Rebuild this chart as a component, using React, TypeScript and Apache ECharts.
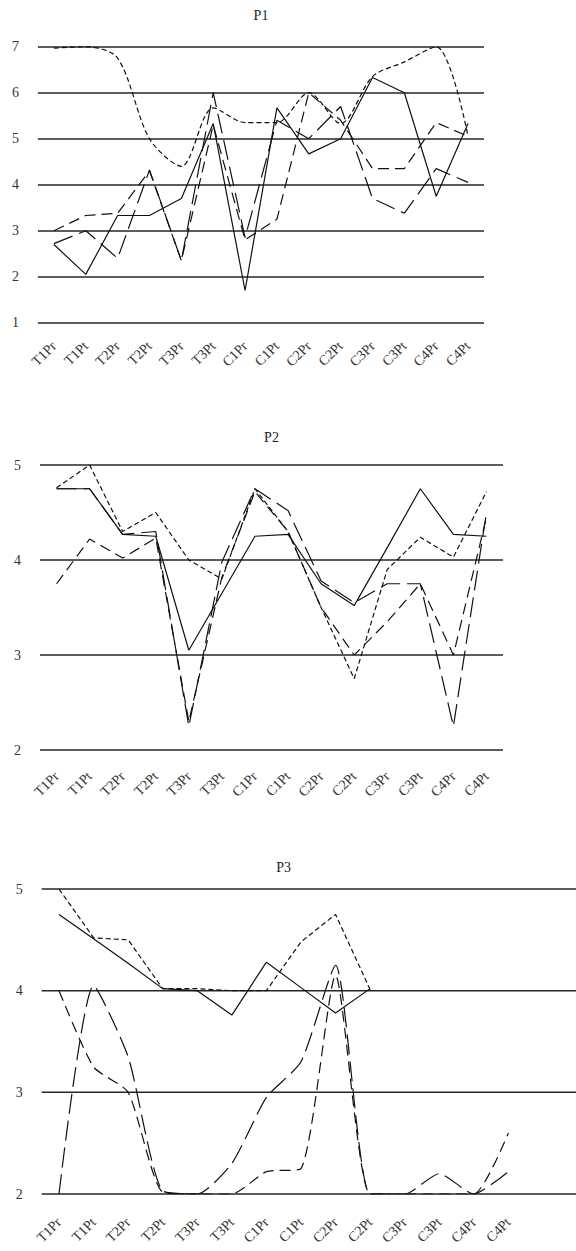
import React, { useEffect, useRef } from "react";
import * as echarts from "echarts";

const categories = ["T1Pr", "T1Pt", "T2Pr", "T2Pt", "T3Pr", "T3Pt", "C1Pr", "C1Pt", "C2Pr", "C2Pt", "C3Pr", "C3Pt", "C4Pr", "C4Pt"];

const p1Solid = [2.7, 2.05, 3.33, 3.33, 3.7, 5.33, 1.7, 5.67, 4.67, 5.0, 6.33, 6.0, 3.75, 5.33];
const p1Short = [6.97, 7.0, 6.75, 5.0, 4.4, 5.67, 5.35, 5.35, 6.0, 5.33, 6.35, 6.67, 7.0, 5.05];
const p1Medium = [3.0, 3.33, 3.38, 4.3, 2.35, 5.3, 2.8, 3.25, 6.0, 5.4, 4.35, 4.35, 5.35, 5.05];
const p1Long = [2.72, 3.0, 2.4, 4.32, 2.35, 6.0, 2.85, 5.4, 5.0, 5.7, 3.7, 3.38, 4.35, 4.05];

const p2Solid = [4.75, 4.75, 4.27, 4.25, 3.05, 3.65, 4.25, 4.27, 3.75, 3.52, 4.13, 4.75, 4.27, 4.25];
const p2Short = [4.76, 5.0, 4.3, 4.5, 4.0, 3.8, 4.75, 4.3, 3.5, 2.75, 3.9, 4.24, 4.03, 4.72];
const p2Medium = [3.75, 4.22, 4.02, 4.23, 2.3, 3.82, 4.72, 4.3, 3.5, 3.0, 3.35, 3.75, 3.0, 4.45];
const p2Long = [4.75, 4.75, 4.27, 4.3, 2.25, 3.98, 4.75, 4.52, 3.78, 3.55, 3.75, 3.75, 2.25, 4.5];

const p3Solid = [4.75, 4.51, 4.27, 4.02, 4.0, 3.76, 4.28, 4.03, 3.78, 4.02, null, null, null, null];
const p3Short = [5.0, 4.52, 4.5, 4.02, 4.02, 4.0, 4.0, 4.48, 4.75, 4.01, null, null, null, null];
const p3Medium = [4.0, 3.25, 3.0, 2.02, 2.0, 2.0, 2.22, 2.25, 4.15, 2.0, 2.0, 2.0, 2.0, 2.6];
const p3Long = [2.0, 4.05, 3.35, 2.03, 2.0, 2.3, 2.95, 3.3, 4.25, 2.0, 2.0, 2.2, 2.0, 2.22];

const panelTitles = ["P1", "P2", "P3"];
const yRanges = [
  [1, 7],
  [2, 5],
  [2, 5],
];

const FONT = "'Liberation Serif', 'DejaVu Serif', serif";
const INK = "#111";
const GRID_INK = "#262626";

export default function App() {
  const ref = useRef<HTMLDivElement>(null);
  useEffect(() => {
    if (!ref.current) return;
    const chart = echarts.init(ref.current, null, { renderer: "svg" });

    const grids = [
      { left: 38, top: 46.7, width: 446, height: 276 },
      { left: 40, top: 465, width: 463, height: 285 },
      { left: 41.7, top: 889, width: 484, height: 305 },
    ];
    const titleY = [15, 437, 867];
    const labelMargins = [21, 24, 26];

    const xAxes = grids.map((_, i) => ({
      type: "category",
      gridIndex: i,
      data: categories,
      boundaryGap: true,
      axisLine: { show: false },
      axisTick: { show: false },
      axisLabel: {
        interval: 0,
        rotate: 45,
        margin: labelMargins[i],
        fontFamily: FONT,
        fontSize: 14,
        color: "#333",
      },
    }));
    const yAxes = grids.map((_, i) => ({
      type: "value",
      gridIndex: i,
      min: yRanges[i][0],
      max: yRanges[i][1],
      interval: 1,
      axisLine: { show: false },
      axisTick: { show: false },
      axisLabel: { fontFamily: FONT, fontSize: 14, color: "#333", margin: 19 },
      splitLine: { show: i !== 2, lineStyle: { color: GRID_INK, width: 1.5 } },
    }));

    const mk = (data: (number | null)[], idx: number, type: any, smooth: number | boolean = false) => ({
      type: "line",
      xAxisIndex: idx,
      yAxisIndex: idx,
      data,
      symbol: "none",
      smooth,
      connectNulls: false,
      lineStyle: { color: INK, width: 1.2, type },
      z: 3,
    });
    const SHORT = [5, 3];
    const MED = [11, 6];
    const LONG = [20, 7];

    const series = [
      mk(p1Solid, 0, "solid"),
      mk(p1Short, 0, SHORT, 0.3),
      mk(p1Medium, 0, MED),
      mk(p1Long, 0, LONG),
      mk(p2Solid, 1, "solid"),
      mk(p2Short, 1, SHORT),
      mk(p2Medium, 1, MED),
      mk(p2Long, 1, LONG),
      mk(p3Solid, 2, "solid"),
      mk(p3Short, 2, SHORT),
      mk(p3Medium, 2, MED, 0.2),
      mk(p3Long, 2, LONG, 0.2),
    ];

    chart.setOption({
      animation: false,
      backgroundColor: "#fff",
      grid: grids,
      xAxis: xAxes,
      yAxis: yAxes,
      series,
    });

    const titles = panelTitles.map((t, i) => ({
      type: "text",
      x: grids[i].left + grids[i].width / 2,
      y: titleY[i],
      style: {
        text: t,
        align: "center",
        verticalAlign: "middle",
        font: `14px ${FONT}`,
        fill: "#222",
      },
    }));
    // gridlines of the third panel run from the axis to the right edge of the page
    const rules: any[] = [];
    const g3 = grids[2];
    for (let v = yRanges[2][0]; v <= yRanges[2][1]; v++) {
      const py = chart.convertToPixel({ yAxisIndex: 2 } as any, v) as number;
      rules.push({
        type: "line",
        z: 1,
        shape: { x1: g3.left, y1: py, x2: 576, y2: py },
        style: { stroke: GRID_INK, lineWidth: 1.5 },
      });
    }
    chart.setOption({ graphic: [...titles, ...rules] });

    return () => chart.dispose();
  }, []);
  return <div ref={ref} style={{ position: "absolute", left: 0, top: 0, width: 576, height: 1251 }} />;
}
